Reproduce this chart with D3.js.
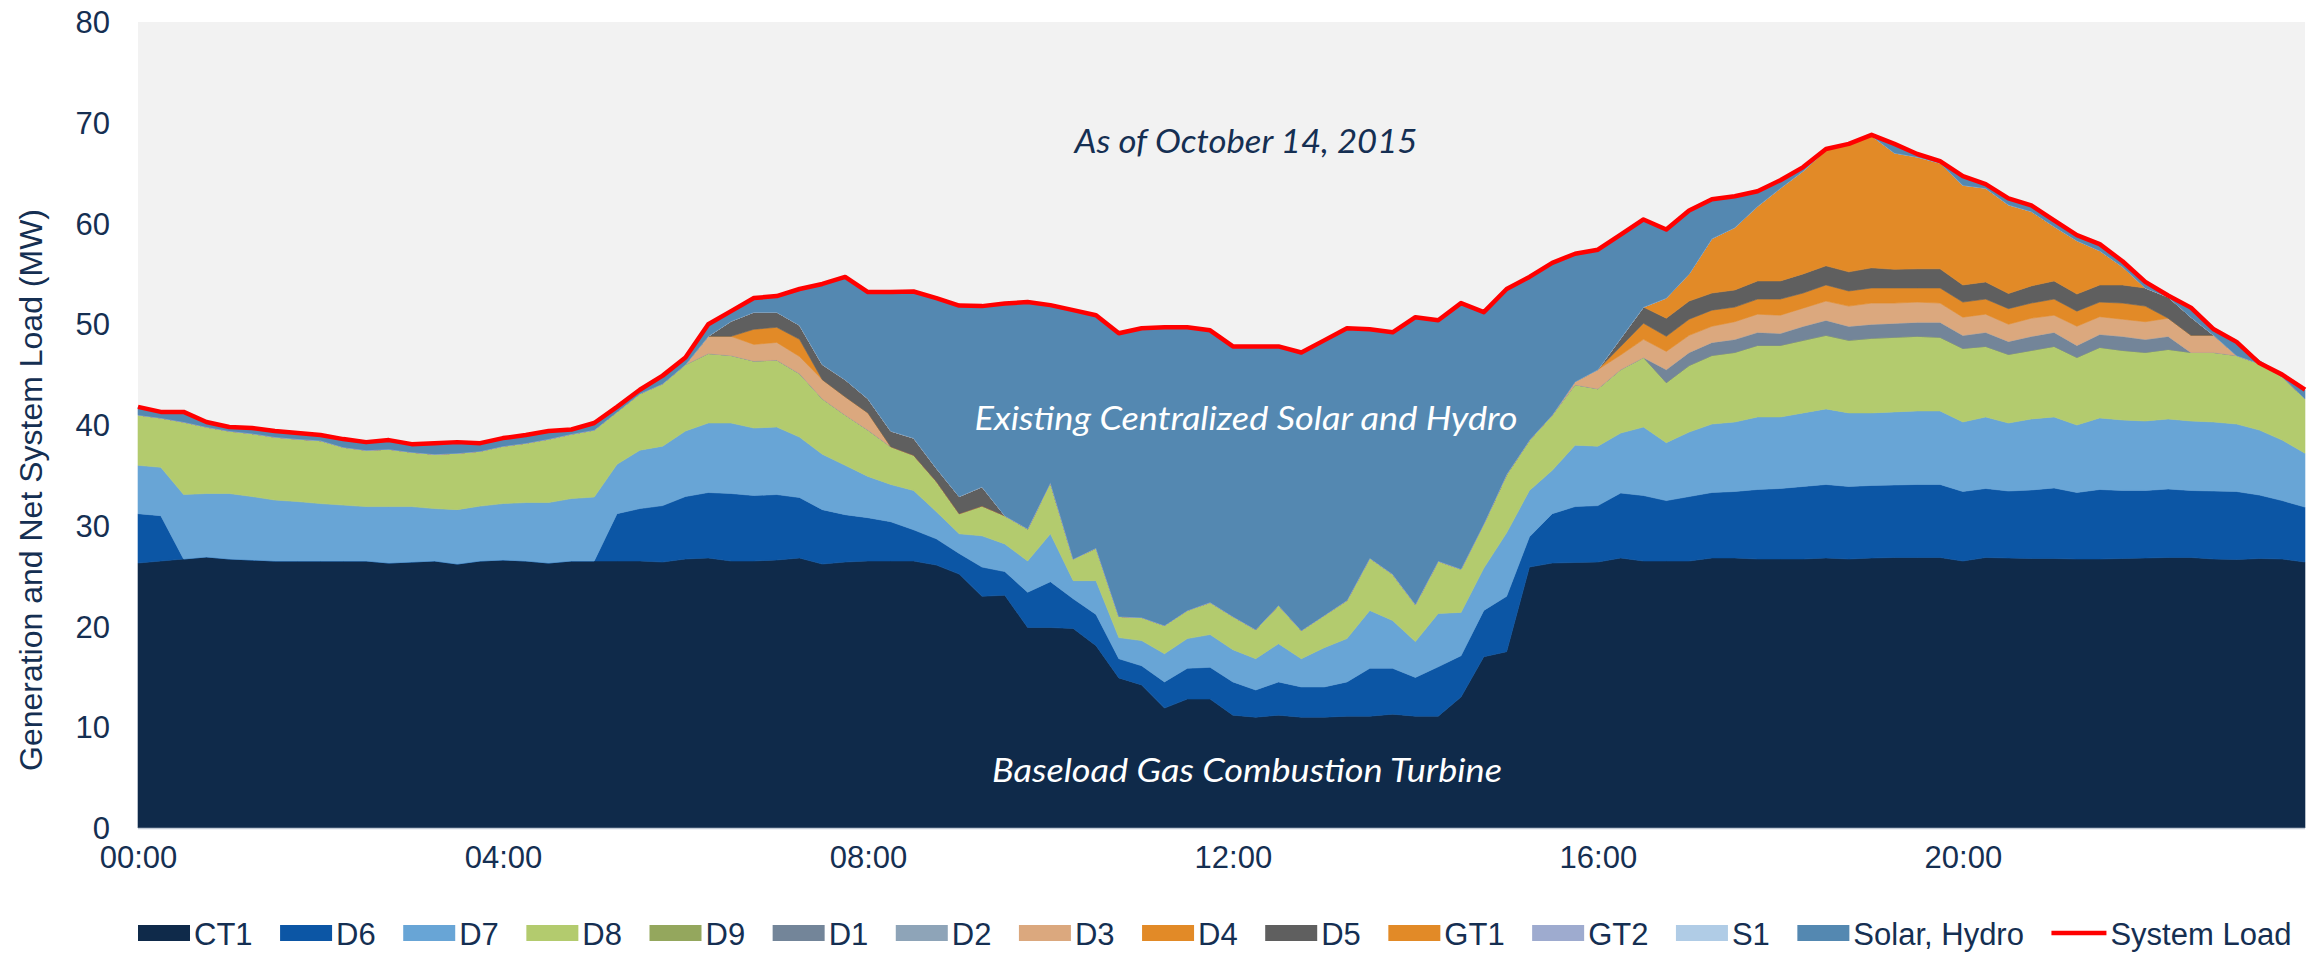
<!DOCTYPE html>
<html>
<head>
<meta charset="utf-8">
<script src="https://cdnjs.cloudflare.com/ajax/libs/d3/7.8.5/d3.min.js"></script>
<style>
  html, body { margin: 0; padding: 0; background: #ffffff; }
  svg { display: block; }
</style>
</head>
<body>
<svg id="chart" width="2321" height="953"></svg>
<script>
// 15-minute intervals over one day
const times = [
  "00:00","00:15","00:30","00:45","01:00","01:15","01:30","01:45","02:00","02:15","02:30","02:45",
  "03:00","03:15","03:30","03:45","04:00","04:15","04:30","04:45","05:00","05:15","05:30","05:45",
  "06:00","06:15","06:30","06:45","07:00","07:15","07:30","07:45","08:00","08:15","08:30","08:45",
  "09:00","09:15","09:30","09:45","10:00","10:15","10:30","10:45","11:00","11:15","11:30","11:45",
  "12:00","12:15","12:30","12:45","13:00","13:15","13:30","13:45","14:00","14:15","14:30","14:45",
  "15:00","15:15","15:30","15:45","16:00","16:15","16:30","16:45","17:00","17:15","17:30","17:45",
  "18:00","18:15","18:30","18:45","19:00","19:15","19:30","19:45","20:00","20:15","20:30","20:45",
  "21:00","21:15","21:30","21:45","22:00","22:15","22:30","22:45","23:00","23:15","23:30","23:45"
];
const xTickLabels = ["00:00","04:00","08:00","12:00","16:00","20:00"];
const yTickValues = [0, 10, 20, 30, 40, 50, 60, 70, 80];

// Generation by unit (MW), stacked bottom to top
const ct1 = [
  26.3,26.5,26.7,26.9,26.7,26.6,26.5,26.5,26.5,26.5, 26.5,26.3,26.4,26.5,26.2,26.5,26.6,26.5,26.3,26.5,
  26.5,26.5,26.5,26.4,26.7,26.8,26.5,26.5,26.6,26.8, 26.2,26.4,26.5,26.5,26.5,26.1,25.2,23.0,23.1,19.9,
  19.9,19.8,18.1,14.9,14.2,11.9,12.8,12.8,11.2,11.0, 11.2,11.0,11.0,11.1,11.1,11.3,11.1,11.1,13.0,17.0,
  17.5,25.9,26.3,26.35,26.4,26.8,26.5,26.5,26.5,26.8, 26.8,26.7,26.7,26.7,26.8,26.7,26.8,26.85,26.85,26.85,
  26.5,26.85,26.8,26.75,26.75,26.7,26.7,26.75,26.8,26.85, 26.85,26.7,26.65,26.75,26.7,26.4
];
const d6 = [
  4.9,4.5,0,0,0,0,0,0,0,0, 0,0,0,0,0,0,0,0,0,0,
  0,4.7,5.2,5.6,6.2,6.5,6.7,6.5,6.5,6.0, 5.4,4.7,4.3,3.9,3.1,2.6,2.05,2.9,2.35,3.5,
  4.55,2.95,3.1,1.9,1.9,2.6,3.05,3.15,3.3,2.7, 3.3,3.0,3.0,3.4,4.75,4.55,3.85,4.9,4.1,4.6,
  5.5,3.0,4.9,5.55,5.6,6.45,6.5,6.0,6.4,6.5, 6.6,6.9,7.0,7.2,7.3,7.2,7.2,7.2,7.25,7.25,
  6.9,6.85,6.65,6.8,7.0,6.6,6.9,6.75,6.7,6.8, 6.65,6.75,6.75,6.3,5.8,5.45
];
const d7 = [
  4.8,4.8,6.4,6.3,6.5,6.3,6.05,5.9,5.7,5.55, 5.4,5.6,5.5,5.2,5.4,5.45,5.6,5.8,6.0,6.2,
  6.35,4.9,5.8,5.9,6.5,6.9,7.0,6.7,6.7,6.0, 5.5,4.9,4.1,3.7,3.9,2.7,1.95,3.1,2.75,3.1,
  4.75,1.8,3.35,2.1,2.5,2.8,2.95,3.25,3.2,3.1, 3.8,2.8,3.9,4.3,5.75,4.75,3.55,5.3,4.3,4.2,
  6.3,4.6,4.3,6.1,5.9,5.95,6.8,5.75,6.4,6.8, 6.9,7.2,7.1,7.3,7.5,7.3,7.2,7.25,7.3,7.3,
  6.9,7.1,6.75,7.05,7.05,6.7,7.1,7.0,6.9,6.95, 6.9,6.85,6.7,6.45,6.0,5.35
];
const d8 = [
  5.0,4.9,7.2,6.6,6.2,6.25,6.25,6.2,6.25,5.75, 5.6,5.7,5.4,5.4,5.6,5.45,5.7,5.9,6.3,6.4,
  6.65,5.2,5.6,6.2,6.6,6.9,6.7,6.65,6.65,6.3, 5.5,5.0,4.6,3.75,3.5,3.0,2.0,2.96,2.8,3.2,
  5.1,2.15,3.25,2.1,2.3,2.8,2.8,3.2,3.3,2.9, 3.8,2.8,3.2,3.8,5.2,4.6,3.7,5.2,4.3,4.4,
  5.8,5.0,5.5,6.0,5.7,6.3,6.9,5.95,6.6,6.8, 6.9,7.1,7.1,7.2,7.3,7.2,7.4,7.4,7.4,7.3,
  7.3,7.0,6.8,6.8,7.0,6.7,7.0,6.9,6.8,6.9, 6.8,6.9,6.8,6.6,6.3,5.4
];
const d9 = [
  0,0,0,0,0,0,0,0,0,0, 0,0,0,0,0,0,0,0,0,0, 0,0,0,0,0,0,0,0,0,0, 0,0,0,0,0,0,0,0,0,0,
  0,0,0,0,0,0,0,0,0,0, 0,0,0,0,0,0,0,0,0,0, 0,0,0,0,0,0,0,0,0,0, 0,0,0,0,0,0,0,0,0,0,
  0,0,0,0,0,0,0,0,0,0, 0,0,0,0,0,0
];
const d1 = [
  0,0,0,0,0,0,0,0,0,0, 0,0,0,0,0,0,0,0,0,0, 0,0,0,0,0,0,0,0,0,0, 0,0,0,0,0,0,0,0,0,0,
  0,0,0,0,0,0,0,0,0,0, 0,0,0,0,0,0,0,0,0,0, 0,0,0,0,0,0,0,1.3,1.3,1.3,
  1.3,1.3,1.2,1.4,1.5,1.4,1.4,1.4,1.4,1.5, 1.3,1.4,1.3,1.4,1.4,1.2,1.3,1.4,1.3,1.3, 0,0,0,0,0,0
];
const d2 = [
  0,0,0,0,0,0,0,0,0,0, 0,0,0,0,0,0,0,0,0,0, 0,0,0,0,0,0,0,0,0,0, 0,0,0,0,0,0,0,0,0,0,
  0,0,0,0,0,0,0,0,0,0, 0,0,0,0,0,0,0,0,0,0, 0,0,0,0,0,0,0,0,0,0, 0,0,0,0,0,0,0,0,0,0,
  0,0,0,0,0,0,0,0,0,0, 0,0,0,0,0,0
];
const d3v = [
  0,0,0,0,0,0,0,0,0,0, 0,0,0,0,0,0,0,0,0,0, 0,0,0,0,0,1.7,1.9,1.65,1.75,1.7,
  1.9,1.8,1.7,0,0,0,0,0,0,0, 0,0,0,0,0,0,0,0,0,0, 0,0,0,0,0,0,0,0,0,0,
  0,0,0,0.3,1.9,1.45,1.8,1.8,1.7,1.6, 1.75,1.8,1.8,1.8,1.9,2.0,2.1,2.0,2.0,1.9,
  1.8,1.8,1.7,1.8,1.7,1.9,1.75,1.7,1.75,1.8, 1.7,1.7,0,0,0,0
];
const d4 = [
  0,0,0,0,0,0,0,0,0,0, 0,0,0,0,0,0,0,0,0,0, 0,0,0,0,0,0,0,1.5,1.5,1.7,
  0,0,0,0,0,0,0,0,0,0, 0,0,0,0,0,0,0,0,0,0, 0,0,0,0,0,0,0,0,0,0,
  0,0,0,0,0,0.85,1.6,1.5,1.6,1.6, 1.45,1.5,1.6,1.5,1.6,1.5,1.5,1.5,1.4,1.5,
  1.5,1.5,1.55,1.5,1.6,1.5,1.45,1.6,1.55,0, 0,0,0,0,0,0
];
const d5 = [
  0,0,0,0,0,0,0,0,0,0, 0,0,0,0,0,0,0,0,0,0, 0,0,0,0,0,0,1.5,1.7,1.5,1.4,
  1.5,1.7,1.4,1.55,1.7,1.3,1.7,1.9,0,0, 0,0,0,0,0,0,0,0,0,0, 0,0,0,0,0,0,0,0,0,0,
  0,0,0,0,0,0.8,1.6,1.8,1.8,1.7, 1.7,1.8,1.8,1.9,1.9,1.9,2.0,1.85,1.9,1.9,
  1.7,1.7,1.5,1.7,1.8,1.7,1.7,1.8,1.8,2.1, 1.8,0,0,0,0,0
];
const gt1 = [
  0,0,0,0,0,0,0,0,0,0, 0,0,0,0,0,0,0,0,0,0, 0,0,0,0,0,0,0,0,0,0, 0,0,0,0,0,0,0,0,0,0,
  0,0,0,0,0,0,0,0,0,0, 0,0,0,0,0,0,0,0,0,0, 0,0,0,0,0,0,0,2.0,2.7,5.4,
  6.2,7.4,9.2,10.2,11.5,12.6,13.1,11.55,11.1,10.5, 9.9,9.3,8.8,7.4,5.4,5.3,3.4,1.8,0,0, 0,0,0,0,0,0
];
const gt2 = [
  0,0,0,0,0,0,0,0,0,0, 0,0,0,0,0,0,0,0,0,0, 0,0,0,0,0,0,0,0,0,0, 0,0,0,0,0,0,0,0,0,0,
  0,0,0,0,0,0,0,0,0,0, 0,0,0,0,0,0,0,0,0,0, 0,0,0,0,0,0,0,0,0,0, 0,0,0,0,0,0,0,0,0,0,
  0,0,0,0,0,0,0,0,0,0, 0,0,0,0,0,0
];
const s1 = [
  0,0,0,0,0,0,0,0,0,0, 0,0,0,0,0,0,0,0,0,0, 0,0,0,0,0,0,0,0,0,0, 0,0,0,0,0,0,0,0,0,0,
  0,0,0,0,0,0,0,0,0,0, 0,0,0,0,0,0,0,0,0,0, 0,0,0,0,0,0,0,0,0,0, 0,0,0,0,0,0,0,0,0,0,
  0,0,0,0,0,0,0,0,0,0, 0,0,0,0,0,0
];
const solarHydro = [
  0.8,0.6,1.0,0.5,0.4,0.55,0.6,0.6,0.55,0.8, 0.8,0.9,0.8,1.1,1.1,0.8,0.8,0.8,0.8,0.45,
  0.7,0.5,0.4,0.8,0.7,1.2,1.0,1.4,1.6,3.6, 8.0,10.2,10.6,13.8,14.55,16.9,18.95,17.95,21.05,22.5,
  17.6,24.7,23.1,28.1,28.7,29.6,28.1,27.0,26.8,28.1, 25.7,27.6,27.3,27.0,22.7,24.0,28.5,23.9,26.4,21.0,
  18.4,16.2,15.1,12.7,11.9,10.3,8.7,6.8,6.3,3.9, 3.1,1.5,0.8,0.4,0.1,0.1,0.1,0.9,0.3,0.2,
  0.9,0.4,0.65,0.6,0.6,0.55,0.65,0.55,0.6,0.15, 0.95,0.6,1.35,0.3,0.2,0.9
];
const systemLoad = [
  41.8,41.3,41.3,40.3,39.8,39.7,39.4,39.2,39.0,38.6, 38.3,38.5,38.1,38.2,38.3,38.2,38.7,39.0,39.4,39.55,
  40.2,41.8,43.5,44.9,46.7,50.0,51.3,52.6,52.8,53.5, 54.0,54.7,53.2,53.2,53.25,52.6,51.85,51.8,52.05,52.2,
  51.9,51.4,50.9,49.1,49.6,49.7,49.7,49.4,47.8,47.8, 47.8,47.2,48.4,49.6,49.5,49.2,50.7,50.4,52.1,51.2,
  53.5,54.7,56.1,57.0,57.4,58.9,60.4,59.4,61.3,62.4, 62.7,63.2,64.3,65.6,67.4,67.9,68.8,67.9,66.9,66.2,
  64.7,63.9,62.5,61.8,60.3,58.85,57.95,56.25,54.2,52.85, 51.65,49.5,48.25,46.15,45.0,43.5
];

const seriesNames = ["CT1","D6","D7","D8","D9","D1","D2","D3","D4","D5","GT1","GT2","S1","Solar, Hydro"];
const seriesValues = [ct1, d6, d7, d8, d9, d1, d2, d3v, d4, d5, gt1, gt2, s1, solarHydro];
const seriesColors = ["#0f2a4a","#0c56a5","#68a5d6","#b3cb6e","#94a75d","#738599","#8ea4b8",
                      "#dba87e","#e28a27","#5f5f5f","#e28a27","#9eabcf","#b0cce6","#5488b1"];

/**
 * Layout and style constants
 */
const CHART = {
  WIDTH: 2321,
  HEIGHT: 953,
  LEFT: 138,
  RIGHT: 2305,
  TOP: 22,
  BOTTOM: 828,
  PLOT_BG: '#f2f2f2',
  TEXT: '#152f52',
  FONT: '"Liberation Sans", Arial, sans-serif',
  FONT_SIZE: 31,
  NOTE_FONT: 'Lato, "Open Sans", sans-serif',
  NOTE_SIZE: 32,
  LOAD_COLOR: '#ff0000',
  LOAD_WIDTH: 4.5,
};

const LEGEND = {
  Y: 933,
  START_X: 138,
  SWATCH_W: 52,
  SWATCH_H: 16,
  LINE_W: 55,
  TEXT_GAP: 4,
  ITEM_GAP: 27.5,
};

const svg = d3.select('#chart');

const x = d3.scaleLinear()
  .domain([0, times.length - 1])
  .range([CHART.LEFT, CHART.RIGHT]);

const y = d3.scaleLinear()
  .domain([0, 80])
  .range([CHART.BOTTOM, CHART.TOP]);

// plot background
svg.append('rect')
  .attr('x', CHART.LEFT)
  .attr('y', CHART.TOP)
  .attr('width', CHART.RIGHT - CHART.LEFT)
  .attr('height', CHART.BOTTOM - CHART.TOP)
  .attr('fill', CHART.PLOT_BG);

// stacked areas
const rows = times.map((t, i) => {
  const row = { time: t };
  seriesNames.forEach((name, k) => { row[name] = seriesValues[k][i]; });
  return row;
});

const stacked = d3.stack().keys(seriesNames)(rows);

const area = d3.area()
  .x((d, i) => x(i))
  .y0(d => y(d[0]))
  .y1(d => y(d[1]));

svg.append('g')
  .attr('class', 'areas')
  .selectAll('path')
  .data(stacked)
  .join('path')
  .attr('d', area)
  .attr('fill', (d, k) => seriesColors[k])
  .attr('stroke', (d, k) => seriesColors[k])
  .attr('stroke-width', 0.6);

// baseline under the areas
svg.append('line')
  .attr('x1', CHART.LEFT)
  .attr('x2', CHART.RIGHT)
  .attr('y1', y(0) + 0.5)
  .attr('y2', y(0) + 0.5)
  .attr('stroke', '#c3ccd6')
  .attr('stroke-width', 1.5);

// system load line
const loadLine = d3.line()
  .x((d, i) => x(i))
  .y(d => y(d));

svg.append('path')
  .datum(systemLoad)
  .attr('d', loadLine)
  .attr('fill', 'none')
  .attr('stroke', CHART.LOAD_COLOR)
  .attr('stroke-width', CHART.LOAD_WIDTH)
  .attr('stroke-linejoin', 'round');

// y axis
const yAxis = d3.axisLeft(y)
  .tickValues(yTickValues)
  .tickSize(0)
  .tickPadding(28)
  .tickFormat(d => String(d));

const yAxisGroup = svg.append('g')
  .attr('transform', `translate(${CHART.LEFT}, 0)`)
  .call(yAxis);
yAxisGroup.select('.domain').remove();
yAxisGroup.selectAll('text')
  .attr('fill', CHART.TEXT)
  .attr('font-family', CHART.FONT)
  .attr('font-size', CHART.FONT_SIZE)
  .attr('dy', '0.34em');

// x axis (labels every 4 hours)
const tickIndex = xTickLabels.map(l => times.indexOf(l));
const xAxis = d3.axisBottom(x)
  .tickValues(tickIndex)
  .tickSize(0)
  .tickPadding(18)
  .tickFormat(d => times[d]);

const xAxisGroup = svg.append('g')
  .attr('transform', `translate(0, ${CHART.BOTTOM})`)
  .call(xAxis);
xAxisGroup.select('.domain').remove();
xAxisGroup.selectAll('text')
  .attr('fill', CHART.TEXT)
  .attr('font-family', CHART.FONT)
  .attr('font-size', CHART.FONT_SIZE)
  .attr('dy', '0.71em');

// y axis title
svg.append('text')
  .attr('transform', 'translate(42, 490) rotate(-90)')
  .attr('text-anchor', 'middle')
  .attr('fill', CHART.TEXT)
  .attr('font-family', CHART.FONT)
  .attr('font-size', 32)
  .text('Generation and Net System Load (MW)');

// annotations
const notes = [
  { text: 'As of October 14, 2015', cx: 1246, base: 153, width: 343, color: CHART.TEXT },
  { text: 'Existing Centralized Solar and Hydro', cx: 1246, base: 430, width: 543, color: '#ffffff' },
  { text: 'Baseload Gas Combustion Turbine', cx: 1247, base: 782, width: 510, color: '#ffffff' },
];
svg.append('g')
  .selectAll('text')
  .data(notes)
  .join('text')
  .attr('x', d => d.cx - d.width / 2)
  .attr('y', d => d.base)
  .attr('textLength', d => d.width)
  .attr('lengthAdjust', 'spacingAndGlyphs')
  .attr('fill', d => d.color)
  .attr('font-family', CHART.NOTE_FONT)
  .attr('font-style', 'italic')
  .attr('font-size', CHART.NOTE_SIZE)
  .text(d => d.text);

// legend
const legend = svg.append('g').attr('class', 'legend');
const legendItems = seriesNames.map((name, k) => ({ name, color: seriesColors[k], kind: 'area' }))
  .concat([{ name: 'System Load', color: CHART.LOAD_COLOR, kind: 'line' }]);

let cursor = LEGEND.START_X;
legendItems.forEach(item => {
  const g = legend.append('g');
  let markW;
  if (item.kind === 'area') {
    markW = LEGEND.SWATCH_W;
    g.append('rect')
      .attr('x', cursor)
      .attr('y', LEGEND.Y - LEGEND.SWATCH_H / 2)
      .attr('width', LEGEND.SWATCH_W)
      .attr('height', LEGEND.SWATCH_H)
      .attr('fill', item.color);
  } else {
    markW = LEGEND.LINE_W;
    g.append('line')
      .attr('x1', cursor)
      .attr('x2', cursor + LEGEND.LINE_W)
      .attr('y1', LEGEND.Y)
      .attr('y2', LEGEND.Y)
      .attr('stroke', item.color)
      .attr('stroke-width', CHART.LOAD_WIDTH);
  }
  const label = g.append('text')
    .attr('x', cursor + markW + LEGEND.TEXT_GAP)
    .attr('y', LEGEND.Y + 12)
    .attr('fill', CHART.TEXT)
    .attr('font-family', CHART.FONT)
    .attr('font-size', CHART.FONT_SIZE)
    .text(item.name);
  cursor += markW + LEGEND.TEXT_GAP + label.node().getComputedTextLength() + LEGEND.ITEM_GAP;
});
</script>
</body>
</html>
